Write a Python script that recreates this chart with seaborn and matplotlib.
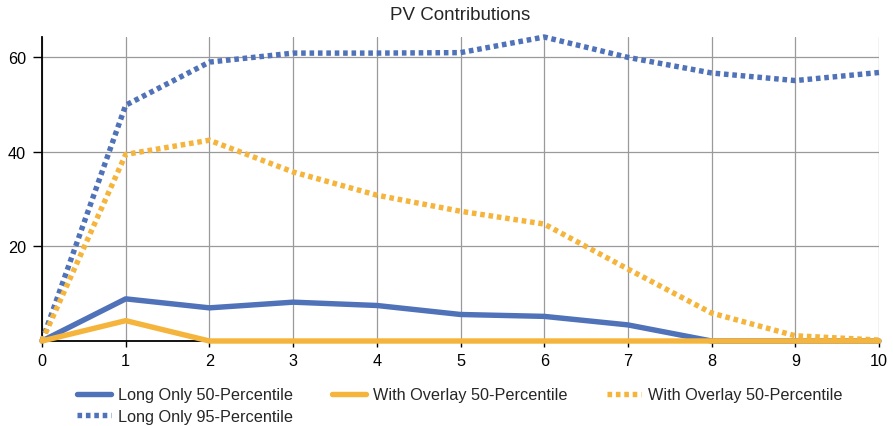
import matplotlib
matplotlib.use("Agg")
import matplotlib.pyplot as plt
import seaborn as sns
import pandas as pd

years = [0, 1, 2, 3, 4, 5, 6, 7, 8, 9, 10]
long_only_50 = [0, 8.9, 7.0, 8.2, 7.5, 5.6, 5.2, 3.4, 0, 0, 0]
overlay_50_solid = [0, 4.3, 0, 0, 0, 0, 0, 0, 0, 0, 0]
overlay_50_dotted = [0, 39.4, 42.4, 35.7, 30.8, 27.4, 24.7, 15.2, 5.9, 1.1, 0.2]
long_only_95 = [0, 49.8, 58.9, 60.8, 60.8, 60.9, 64.2, 59.9, 56.6, 55.0, 56.7]

labels = ["Long Only 50-Percentile", "Long Only 95-Percentile",
          "With Overlay 50-Percentile", "With Overlay 50-Percentile"]
series = [long_only_50, long_only_95, overlay_50_solid, overlay_50_dotted]

sns.set_theme(style="white")
plt.rcParams['font.family'] = ['Liberation Sans', 'DejaVu Sans']

blue = "#4f72b8"
orange = "#f5b53c"
colors = [blue, blue, orange, orange]
dotted = (0, (0.85, 0.7))
styles = ["-", dotted, "-", dotted]

fig = plt.figure(figsize=(8.93, 4.27), dpi=100)
ax = fig.add_axes([42/893, 1-342/427, (879-42)/893, (342-38)/427])

for lab, vals, c, ls in zip(labels, series, colors, styles):
    df = pd.DataFrame({"x": years, "y": vals})
    sns.lineplot(data=df, x="x", y="y", ax=ax, color=c, linewidth=3.9,
                 linestyle=ls, label=lab, clip_on=False, zorder=3)

ax.set_xlim(0, 10)
ax.set_ylim(0, 64.2)
ax.set_xticks(years)
ax.set_yticks([20, 40, 60])
ax.set_xlabel("")
ax.set_ylabel("")
ax.grid(True, color="#9a9a9a", linewidth=0.9)
ax.set_axisbelow(True)
for s in ["top", "right"]:
    ax.spines[s].set_visible(False)
for s in ["left", "bottom"]:
    ax.spines[s].set_color("black")
    ax.spines[s].set_linewidth(1.3)
    ax.spines[s].set_zorder(2)
ax.tick_params(axis="both", labelsize=11.7, colors="black", width=1,
               direction="out", left=True, bottom=True)
ax.tick_params(axis="y", length=6.5, pad=5)
ax.tick_params(axis="x", length=4, pad=5)
ax.set_title("PV Contributions", fontsize=13.5, pad=13)

ax.legend(loc="upper left", bbox_to_anchor=(70/893, 1-382/427),
          bbox_transform=fig.transFigure, ncol=3, frameon=False,
          fontsize=11.7, handlelength=2.1, handletextpad=0.45, columnspacing=2.4,
          labelspacing=0.38, borderaxespad=0)

fig.savefig("out.png", dpi=100)
